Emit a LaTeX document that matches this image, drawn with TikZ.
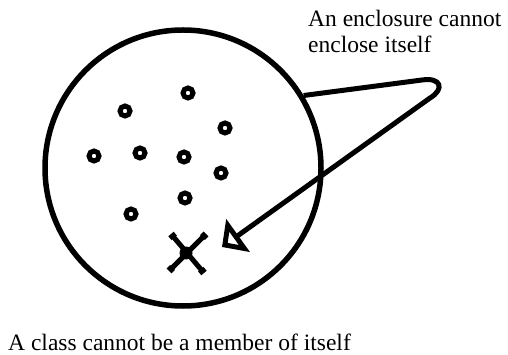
\documentclass[tikz,border=0pt]{standalone}
\usepackage{fontspec}
\setmainfont{Liberation Serif}
\usetikzlibrary{arrows.meta}

\begin{document}
\begin{tikzpicture}[
    x=1pt, y=-1pt,
    font=\fontsize{23.5}{26}\selectfont,
    enclosure/.style={draw, circle, line width=5.5pt, minimum size=276pt, inner sep=0pt},
    member/.style={draw, circle, line width=5pt, minimum size=10pt, inner sep=0pt},
    selfdot/.style={fill, circle, minimum size=13pt, inner sep=0pt},
    crossbar/.style={line width=5pt, {Bar[width=7pt]}-{Bar[width=7pt]}},
    note/.style={align=left, inner sep=0pt},
    arr/.style={-{Triangle[open, angle=90:28pt]}, line width=5pt, line join=round}
  ]
  \useasboundingbox (0,0) rectangle (508,355);

  % ---- the class ----
  \node[enclosure] (encl) at (183,168) {};

  % ---- its members ----
  \node[member] (m1) at (188,93) {};
  \node[member] (m2) at (125,111) {};
  \node[member] (m3) at (225,128) {};
  \node[member] (m4) at (94,156) {};
  \node[member] (m5) at (140,153) {};
  \node[member] (m6) at (184,157) {};
  \node[member] (m7) at (221,173) {};
  \node[member] (m8) at (185,198) {};
  \node[member] (m9) at (131,214) {};

  % ---- the class itself, crossed out ----
  \node[selfdot] (self) at (186,253) {};
  \draw[crossbar] (self) ++(-15,-19) -- ++(33,39);
  \draw[crossbar] (self) ++(20,-19) -- ++(-37,37);

  % ---- arrow back into the enclosure ----
  \coordinate (tip) at (222,247);
  \draw[arr] (encl.31) -- (422,80) .. controls (441,77) and (445,89) .. (430,98)
    -- (tip);

  % ---- texts ----
  \node[note, anchor=north west] (enctext) at (308,10)
    {An enclosure cannot \\ enclose itself};
  \node[note, anchor=base west] (classtext) at (8,350)
    {A class cannot be a member of itself};

\end{tikzpicture}
\end{document}
